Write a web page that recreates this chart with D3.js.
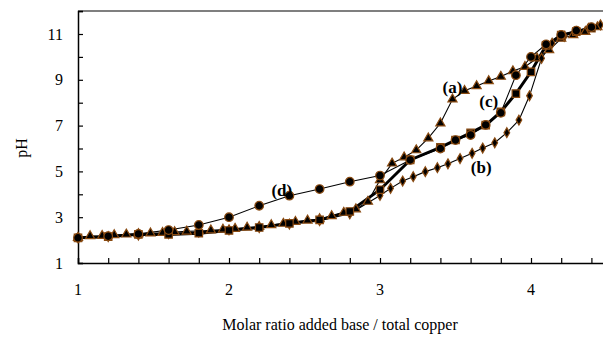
<!DOCTYPE html>
<html><head><meta charset="utf-8">
<script src="https://cdn.jsdelivr.net/npm/d3@7"></script>
<style>body{margin:0;background:#fff}svg{display:block}</style>
</head><body><svg id="c" width="603" height="337"></svg>
<script>
// ---- data ----
const aX = [1.0,1.08,1.16,1.24,1.32,1.40,1.48,1.56,1.64,1.72,1.80,1.88,1.96,2.04,2.12,2.20,2.28,2.36,2.44,2.52,2.60,2.68,2.76,2.84,2.92,3.00,3.08,3.16,3.24,3.32,3.40,3.48,3.56,3.64,3.72,3.80,3.88,3.96,4.04,4.12,4.20,4.28,4.36,4.44];
const aY = [2.1,2.18,2.19,2.22,2.25,2.27,2.3,2.32,2.35,2.38,2.4,2.43,2.46,2.5,2.55,2.58,2.66,2.72,2.8,2.86,2.92,3.05,3.2,3.35,3.68,4.62,5.35,5.62,5.93,6.45,7.1,8.15,8.52,8.73,8.95,9.14,9.38,9.57,9.94,10.3,10.8,10.96,11.1,11.3];
const bX = [1.0,1.2,1.4,1.6,1.8,2.0,2.2,2.4,2.6,2.8,3.0,3.07,3.15,3.22,3.30,3.38,3.45,3.53,3.61,3.68,3.76,3.84,3.92,3.99,4.07,4.14,4.22,4.30,4.38,4.46];
const bY = [2.1,2.15,2.22,2.28,2.35,2.45,2.55,2.7,2.85,3.15,3.95,4.26,4.58,4.77,4.99,5.16,5.33,5.56,5.79,6.02,6.25,6.69,7.24,8.3,9.94,10.6,10.9,11.1,11.25,11.4];
const cX = [1.0,1.2,1.4,1.6,1.8,2.0,2.2,2.4,2.6,2.8,3.0,3.2,3.4,3.5,3.6,3.7,3.8,3.9,4.0,4.1,4.2,4.3,4.4];
const cY = [2.1,2.15,2.25,2.25,2.3,2.42,2.55,2.73,2.88,3.25,4.2,5.5,6.05,6.37,6.68,7.02,7.6,8.4,9.35,10.5,10.95,11.1,11.25];
const dX = [1.0,1.2,1.4,1.6,1.8,2.0,2.2,2.4,2.6,2.8,3.0,3.2,3.4,3.5,3.6,3.7,3.8,3.9,4.0,4.1,4.2,4.3,4.4];
const dY = [2.1,2.17,2.27,2.44,2.66,3.0,3.5,3.94,4.23,4.55,4.82,5.5,6.0,6.37,6.59,7.03,7.56,9.2,10.0,10.55,10.96,11.15,11.3];
const seriesNames = ["(a)","(b)","(c)","(d)"];
const labelPos = [[3.48,8.69],[3.67,5.19],[3.72,8.07],[2.35,4.19]];
const yTickLabels = [1,3,5,7,9,11];
const xTickLabels = [1,2,3,4];

// ---- chart ----
const svg = d3.select("#c");
const x = d3.scaleLinear().domain([1,4.5]).range([78,606.5]);
const y = d3.scaleLinear().domain([1,12]).range([263,11.1]);
const font = "'Liberation Serif','Times New Roman',serif";
const brown = "#8a4b12";

// top border
svg.append("line").attr("x1",x(1)).attr("x2",603).attr("y1",y(12)).attr("y2",y(12))
  .attr("stroke","#555").attr("stroke-width",1.5);

// x axis
const xAxis = d3.axisBottom(x).tickValues(d3.range(1,4.61,0.2)).tickSize(-5).tickFormat("");
const gx = svg.append("g").attr("transform",`translate(0,${y(1)})`).call(xAxis);
gx.select(".domain").attr("stroke","#000").attr("stroke-width",1.5);
gx.selectAll(".tick line").attr("stroke","#000").attr("stroke-width",1.2);
svg.append("g").selectAll("text").data(xTickLabels).join("text")
  .attr("x",d=>x(d)).attr("y",295).attr("text-anchor","middle")
  .attr("font-family",font).attr("font-size",16).text(d=>d);

// y axis
const yAxis = d3.axisLeft(y).tickValues(d3.range(1,12.5,1)).tickSize(-5).tickFormat("");
const gy = svg.append("g").attr("transform",`translate(${x(1)},0)`).call(yAxis);
gy.select(".domain").attr("stroke","#000").attr("stroke-width",1.5);
gy.selectAll(".tick line").attr("stroke","#000").attr("stroke-width",1.2);
svg.append("g").selectAll("text").data(yTickLabels).join("text")
  .attr("x",63).attr("y",d=>y(d)+5.5).attr("text-anchor","end")
  .attr("font-family",font).attr("font-size",16).text(d=>d);

// axis titles
svg.append("text").attr("x",340).attr("y",330).attr("text-anchor","middle")
  .attr("font-family",font).attr("font-size",16).text("Molar ratio added base / total copper");
svg.append("text").attr("transform","translate(27,148) rotate(-90)").attr("text-anchor","middle")
  .attr("font-family",font).attr("font-size",16).text("pH");

const clip = svg.append("clipPath").attr("id","clp").append("rect")
  .attr("x",0).attr("y",0).attr("width",603).attr("height",337);

const series = [
  {xs:aX, ys:aY, sym:d3.symbolTriangle, size:36, w:1.1},
  {xs:bX, ys:bY, sym:d3.symbolDiamond, size:28, w:1.1},
  {xs:cX, ys:cY, sym:d3.symbolSquare, size:56, w:3},
  {xs:dX, ys:dY, sym:d3.symbolCircle, size:58, w:1.1}
];
const line = d3.line().x(d=>x(d[0])).y(d=>y(d[1]));
const plot = svg.append("g").attr("clip-path","url(#clp)");
series.forEach(s=>{
  const pts = s.xs.map((v,i)=>[v,s.ys[i]]);
  plot.append("path").datum(pts).attr("d",line).attr("fill","none")
    .attr("stroke","#000").attr("stroke-width",s.w);
});
series.forEach(s=>{
  const pts = s.xs.map((v,i)=>[v,s.ys[i]]);
  plot.append("g").selectAll("path").data(pts).join("path")
    .attr("transform",d=>`translate(${x(d[0])},${y(d[1])})`)
    .attr("d",d3.symbol().type(s.sym).size(s.size))
    .attr("fill","#000").attr("stroke",brown).attr("stroke-width",1.2);
});

// series labels
svg.append("g").selectAll("text").data(seriesNames).join("text")
  .attr("x",(d,i)=>x(labelPos[i][0])).attr("y",(d,i)=>y(labelPos[i][1])+6)
  .attr("text-anchor","middle").attr("font-family",font).attr("font-size",17)
  .attr("font-weight","bold").text(d=>d);
</script></body></html>
